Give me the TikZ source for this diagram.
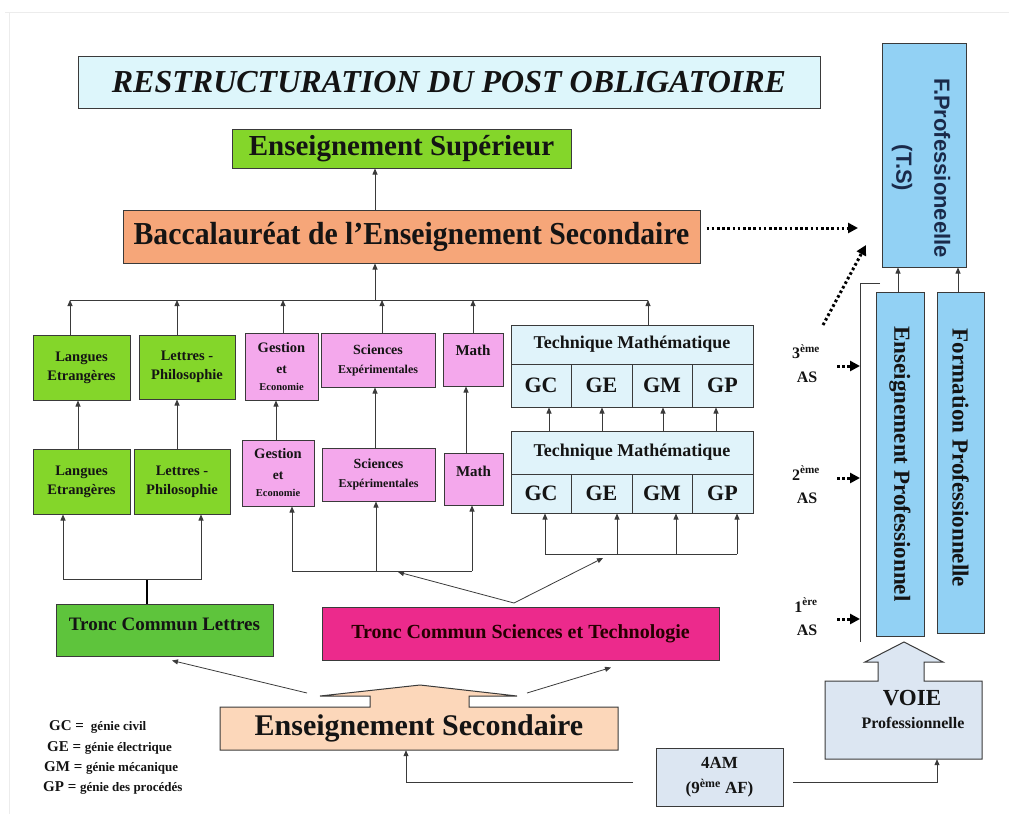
\documentclass[tikz,border=0pt]{standalone}
\usepackage{fontspec}
\setmainfont{Liberation Serif}
\newfontfamily\sansf{Liberation Sans}
\newfontfamily\condf[FakeStretch=0.93]{Liberation Serif}
\usetikzlibrary{arrows.meta,calc}
\newcommand{\fsz}[2]{\fontsize{#1}{#2}\selectfont}
\definecolor{titlebg}{HTML}{DDF6FB}
\definecolor{grn}{HTML}{84D62A}
\definecolor{orng}{HTML}{F6A679}
\definecolor{pnk}{HTML}{F4A8EC}
\definecolor{tmbg}{HTML}{E0F3FA}
\definecolor{tclg}{HTML}{5EC43C}
\definecolor{mag}{HTML}{EC2A8C}
\definecolor{peach}{HTML}{FCD7BA}
\definecolor{pale}{HTML}{DCE6F2}
\definecolor{sky}{HTML}{92D1F4}
\definecolor{edge}{HTML}{3A3A3A}
\definecolor{ink}{HTML}{141414}
\definecolor{navy}{HTML}{1A2A4A}
\begin{document}
\begin{tikzpicture}[x=1pt,y=-1pt,
  box/.style={draw=edge,line width=1pt,inner sep=0pt,align=center,text=ink},
  txt/.style={inner sep=0pt,align=center,text=ink},
  arr/.style={draw=edge,line width=0.8pt,-{Triangle[length=6pt,width=5pt]}},
  ln/.style={draw=edge,line width=0.8pt},
  dotarr/.style={draw=black,line width=3pt,dash pattern=on 2.6pt off 2.6pt,-{Triangle[length=10pt,width=10pt]}},
  f14/.style={font=\bfseries\fsz{14.5}{19}},
  fsci/.style={font=\bfseries\fsz{14}{19}},
  fges/.style={font=\bfseries\fsz{14.5}{20}},
  ftm/.style={font=\bfseries\fsz{18}{22}},
  fg/.style={font=\bfseries\fsz{22}{24}},
  fas/.style={font=\bfseries\fsz{16}{18}},
  fleg/.style={font=\bfseries\fsz{15}{18}}
]
\useasboundingbox (0,0) rectangle (1009,814);
\draw[gray!15,line width=1pt] (5,12) -- (1009,12) (9,12) -- (9,814);

% title and upper boxes
\node[box,fill=titlebg,minimum width=742,minimum height=52,font=\bfseries\itshape\fsz{32}{36}] (title) at (449,82)
  {RESTRUCTURATION DU POST OBLIGATOIRE};
\node[box,fill=grn,minimum width=339,minimum height=39,font=\bfseries\fsz{29}{30}] (sup) at (401.5,148.5)
  {Enseignement Supérieur};
\node[box,fill=orng,minimum width=577,minimum height=53,font=\condf\bfseries\fsz{32}{36}] (bac) at (411.5,236.5)
  {Baccalauréat de l’Enseignement Secondaire};

% top row
\node[box,f14,fill=grn,minimum width=97,minimum height=65] (lt) at (81.5,367.5)
  {Langues\\Etrangères};
\node[box,f14,fill=grn,minimum width=96,minimum height=64] (pt) at (187,367)
  {Lettres -\\Philosophie};
\node[box,fges,fill=pnk,minimum width=73,minimum height=67] (gt) at (281.5,366.5)
  {Gestion\\[1pt]\fsz{13.5}{20}et\\[-3pt]\fsz{10.5}{17}Economie};
\node[box,fill=pnk,minimum width=114,minimum height=54] (st) at (378,360) {};
\node[txt,fsci] (stT) at (378,360) {Sciences\\\fsz{12}{19}Expérimentales};
\node[box,fill=pnk,minimum width=60,minimum height=53] (mt) at (473,359.5) {};
\node[txt,font=\bfseries\fsz{15}{18}] (mtT) at (473,350) {Math};
\node[box,ftm,fill=tmbg,minimum width=242,minimum height=39] (tmt) at (632,344.5)
  {Technique Mathématique};
\node[box,fg,fill=tmbg,minimum width=60,minimum height=43] (tc1) at (541,385.5) {GC};
\node[box,fg,fill=tmbg,minimum width=61,minimum height=43] (tc2) at (601.5,385.5) {GE};
\node[box,fg,fill=tmbg,minimum width=60,minimum height=43] (tc3) at (662,385.5) {GM};
\node[box,fg,fill=tmbg,minimum width=61,minimum height=43] (tc4) at (722.5,385.5) {GP};

% bottom row
\node[box,f14,fill=grn,minimum width=97,minimum height=65] (lb) at (81.5,481.5)
  {Langues\\Etrangères};
\node[box,f14,fill=grn,minimum width=96,minimum height=65] (pb) at (182,481.5)
  {Lettres -\\Philosophie};
\node[box,fges,fill=pnk,minimum width=72,minimum height=66] (gb) at (278,473)
  {Gestion\\[1pt]\fsz{13.5}{20}et\\[-3pt]\fsz{10.5}{17}Economie};
\node[box,fsci,fill=pnk,minimum width=113,minimum height=53] (sb) at (378.5,474.5)
  {Sciences\\\fsz{12}{19}Expérimentales};
\node[box,fill=pnk,minimum width=59,minimum height=52] (mb) at (473.5,479) {};
\node[txt,font=\bfseries\fsz{15}{18}] (mbT) at (473.5,471) {Math};
\node[box,ftm,fill=tmbg,minimum width=242,minimum height=43] (tmb) at (632,452.5)
  {Technique Mathématique};
\node[box,fg,fill=tmbg,minimum width=60,minimum height=39] (bc1) at (541,493.5) {GC};
\node[box,fg,fill=tmbg,minimum width=61,minimum height=39] (bc2) at (601.5,493.5) {GE};
\node[box,fg,fill=tmbg,minimum width=60,minimum height=39] (bc3) at (662,493.5) {GM};
\node[box,fg,fill=tmbg,minimum width=61,minimum height=39] (bc4) at (722.5,493.5) {GP};

% troncs communs
\node[box,fill=tclg,minimum width=217,minimum height=52] (tcl) at (164.5,630) {};
\node[txt,font=\bfseries\fsz{19}{22}] (tclT) at (164.5,624) {Tronc Commun Lettres};
\node[box,fill=mag,minimum width=397,minimum height=53,font=\bfseries\fsz{20}{24},text=black!85!red] (tcs) at (520.5,633.5)
  {Tronc Commun Sciences et Technologie};

% Enseignement secondaire block arrow
\path[draw=edge,line width=1pt,fill=peach]
  (220,707) -- (370,707) -- (370,696) -- (320,696) -- (420,685) -- (517,696)
  -- (469,696) -- (469,707) -- (618,707) -- (618,750) -- (220,750) -- cycle;
\node[txt,minimum width=398,minimum height=43,font=\bfseries\fsz{30}{34}] (es) at (419,728.5)
  {Enseignement Secondaire};

% 4AM
\node[box,fill=pale,minimum width=127,minimum height=58,font=\bfseries\fsz{17}{25}] (am) at (719.5,777)
  {4AM\\(9\textsuperscript{ème} AF)};

% VOIE professionnelle block arrow
\path[draw=edge,line width=1pt,fill=pale]
  (825,681) -- (878,681) -- (878,662) -- (865,662) -- (904,642) -- (943,662)
  -- (924,662) -- (924,681) -- (982,681) -- (982,759) -- (825,759) -- cycle;
\node[txt,minimum width=157,minimum height=78] (voie) at (903.5,720) {};
\node[txt,font=\bfseries\fsz{23}{26}] (voieT1) at (912,698) {VOIE};
\node[txt,font=\bfseries\fsz{16}{20}] (voieT2) at (913,723) {Professionnelle};

% right column
\node[box,fill=sky,minimum width=84,minimum height=224] (fpro) at (924,155) {};
\node[txt,rotate=-90,text=navy,font=\sansf\bfseries\fsz{22}{38}] (fproT) at (921,168)
  {F.Professioneelle\\(T.S)};
\node[box,fill=sky,minimum width=48,minimum height=344] (ep) at (900,464) {};
\node[txt,rotate=-90,font=\bfseries\fsz{23}{26}] (epT) at (900,464) {Enseignement Professionnel};
\node[box,fill=sky,minimum width=47,minimum height=341] (fp) at (960.5,462.5) {};
\node[txt,rotate=-90,font=\bfseries\fsz{23}{26}] (fpT) at (960.5,458) {Formation Professionnelle};

% AS labels
\node[txt,fas] (as3a) at (806,352) {3\textsuperscript{ème}};
\node[txt,fas] (as3b) at (807,377) {AS};
\node[txt,fas] (as2a) at (806,473) {2\textsuperscript{ème}};
\node[txt,fas] (as2b) at (807,498) {AS};
\node[txt,fas] (as1a) at (806,605) {1\textsuperscript{ère}};
\node[txt,fas] (as1b) at (807,630) {AS};

% legend
\node[txt,fleg,anchor=west] (lg1) at (49,727) {GC = \fsz{13}{18} génie civil};
\node[txt,fleg,anchor=west] (lg2) at (47,748) {GE = \fsz{13}{18}génie électrique};
\node[txt,fleg,anchor=west] (lg3) at (44,768) {GM = \fsz{13}{18}génie mécanique};
\node[txt,fleg,anchor=west] (lg4) at (43,788) {GP = \fsz{13}{18}génie des procédés};

% ---------- connectors ----------
\draw[arr] (bac.north -| 375,0) -- (sup.south -| 375,0);
\coordinate (busL) at (70,300);
\coordinate (busR) at (648,300);
\draw[ln] (busL) -- (busR);
\draw[arr] (375,300) -- (bac.south -| 375,0);
\draw[arr] (lt.north -| 70,0) -- (busL);
\draw[arr] (pt.north -| 177,0) -- (177,300);
\draw[arr] (gt.north -| 283,0) -- (283,300);
\draw[arr] (st.north -| 382,0) -- (382,300);
\draw[arr] (mt.north -| 473,0) -- (473,300);
\draw[arr] (tmt.north -| 648,0) -- (busR);

\draw[arr] (lb.north -| 78,0) -- (lt.south -| 78,0);
\draw[arr] (pb.north -| 177,0) -- (pt.south -| 177,0);
\draw[arr] (gb.north -| 276,0) -- (gt.south -| 276,0);
\draw[arr] (sb.north -| 375,0) -- (st.south -| 375,0);
\draw[arr] (mb.north -| 466,0) -- (mt.south -| 466,0);
\draw[arr] (tmb.north -| 549,0) -- (tc1.south -| 549,0);
\draw[arr] (tmb.north -| 602,0) -- (tc2.south -| 602,0);
\draw[arr] (tmb.north -| 663,0) -- (tc3.south -| 663,0);
\draw[arr] (tmb.north -| 716,0) -- (tc4.south -| 716,0);

% lettres group
\draw[draw=black,line width=1.6pt] (tcl.north -| 147,0) -- (147,579);
\draw[arr] (147,579) -| (lb.south -| 63,0);
\draw[arr] (147,579) -| (pb.south -| 201,0);
% sciences group
\draw[ln] (292,571) -- (472,571);
\draw[arr] (292,571) -- (gb.south -| 292,0);
\draw[arr] (376,571) -- (sb.south -| 376,0);
\draw[arr] (472,571) -- (mb.south -| 472,0);
% technique group
\draw[ln] (545,554) -- (737,554);
\draw[arr] (545,554) -- (bc1.south -| 545,0);
\draw[arr] (617,554) -- (bc2.south -| 617,0);
\draw[arr] (676,554) -- (bc3.south -| 676,0);
\draw[arr] (737,554) -- (bc4.south -| 737,0);
% from tronc commun sciences
\coordinate (tcsTop) at (514,603);
\draw[arr] (tcsTop) -- (398,572);
\draw[arr] (tcsTop) -- (603,558);

% from enseignement secondaire
\coordinate (esL) at (307,693);
\coordinate (esR) at (527,693);
\draw[arr] (esL) -- ([yshift=-4pt]tcl.south -| 172,0);
\draw[arr] (esR) -- ([yshift=-7pt]tcs.south -| 611,0);

% from 4AM
\coordinate (amL) at (633,782);
\coordinate (amR) at (793,782);
\draw[arr] (amL) -| (es.south -| 406,0);
\draw[arr] (amR) -| (voie.south -| 937,0);

% right column links
\draw[arr] (ep.north -| 898,0) -- (fpro.south -| 898,0);
\draw[arr] (fp.north -| 958,0) -- (fpro.south -| 958,0);
\coordinate (vTop) at (880,283);
\coordinate (vBot) at (860,642);
\draw[ln] (vTop) -- (860,283) -- (vBot);

% dotted arrows
\draw[dotarr] (bac.east |- 0,228) ++(6,0) -- (858,228);
\coordinate (dgS) at (823,325);
\draw[dotarr] (dgS) -- (866,245);
\draw[dotarr] (837,366) -- (860,366);
\draw[dotarr] (837,478) -- (860,478);
\draw[dotarr] (837,619) -- (860,619);
\end{tikzpicture}
\end{document}
